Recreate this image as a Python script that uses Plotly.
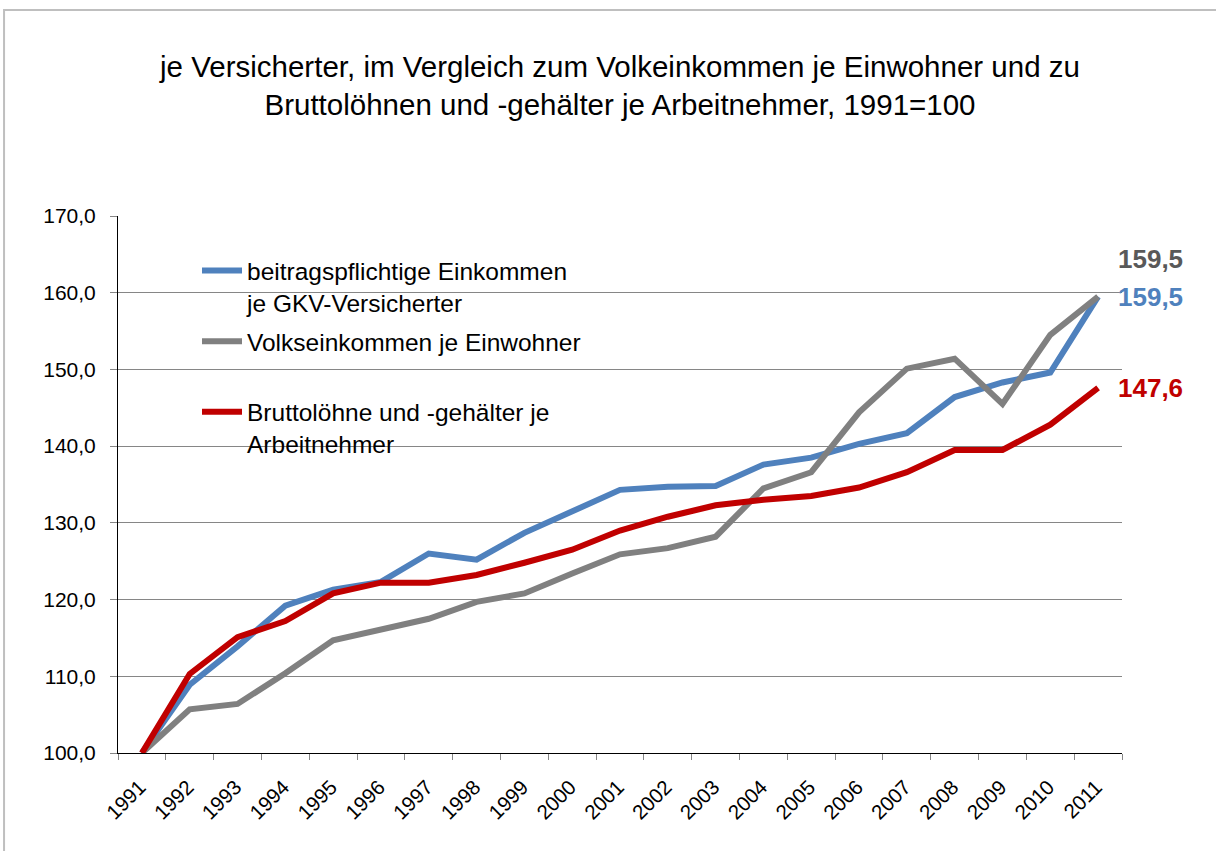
import plotly.graph_objects as go

years = [str(y) for y in range(1991, 2012)]

beitrag = [100, 108.9, 113.9, 119.2, 121.3, 122.3, 126.0, 125.2, 128.7, 131.5,
           134.3, 134.7, 134.8, 137.6, 138.5, 140.3, 141.7, 146.4, 148.3, 149.6, 159.5]
volk = [100, 105.7, 106.4, 110.4, 114.7, 116.1, 117.5, 119.7, 120.8, 123.4,
        125.9, 126.7, 128.2, 134.5, 136.6, 144.4, 150.1, 151.4, 145.5, 154.5, 159.5]
brutto = [100, 110.3, 115.1, 117.2, 120.8, 122.2, 122.2, 123.2, 124.8, 126.5,
          129.0, 130.8, 132.3, 133.0, 133.5, 134.6, 136.6, 139.5, 139.5, 142.8, 147.6]

names = ["beitragspflichtige Einkommen<br>je GKV-Versicherter",
         "Volkseinkommen je Einwohner<br> ",
         "Bruttolöhne und -gehälter je<br>Arbeitnehmer"]
colors = ["#4F81BD", "#808080", "#C00000"]
label_colors = ["#4F81BD", "#595959", "#C00000"]
label_shift = [0, 38, 0]

FONT = "Liberation Sans, Arial, sans-serif"

fig = go.Figure()
for i, vals in enumerate([beitrag, volk, brutto]):
    fig.add_trace(go.Scatter(
        x=years, y=vals, mode="lines", name=names[i],
        line=dict(color=colors[i], width=6),
        legendgroup=str(i)
    ))
    # end value label (category axis -> position by index)
    fig.add_annotation(
        x=len(years) - 1, y=vals[-1],
        text=f"<b>{vals[-1]:.1f}</b>".replace(".", ","),
        showarrow=False, xanchor="left", yanchor="middle",
        xshift=18, yshift=label_shift[i],
        font=dict(family=FONT, size=26, color=label_colors[i])
    )

# white box behind legend, above the gridlines
fig.add_shape(type="rect", xref="paper", yref="paper", layer="between",
              x0=(179 - 118) / 1004, x1=(591 - 118) / 1004,
              y0=(753 - 455) / 537, y1=(753 - 255) / 537,
              fillcolor="white", line=dict(width=0))

# chart area border
fig.add_shape(type="rect", xref="paper", yref="paper", layer="above",
              x0=-0.1135, x1=1.3, y0=-0.4, y1=1.3836,
              line=dict(color="#BFBFBF", width=2))

fig.update_layout(
    width=1216, height=851,
    margin=dict(l=118, r=94, t=216, b=98),
    paper_bgcolor="white", plot_bgcolor="white",
    separators=",.",
    font=dict(family=FONT, color="black"),
    title=dict(
        text="je Versicherter, im Vergleich zum Volkeinkommen je Einwohner und zu<br>"
             "Bruttolöhnen und -gehälter je Arbeitnehmer, 1991=100",
        x=0.5, xref="paper", xanchor="center",
        y=1 - 77 / 851, yref="container", yanchor="middle",
        font=dict(family=FONT, size=29.5, color="black")
    ),
    legend=dict(
        x=(197 - 118) / 1004, y=(753 - 248) / 537, xanchor="left", yanchor="top",
        bgcolor="rgba(0,0,0,0)", font=dict(family=FONT, size=24.5, color="black"),
        valign="top", tracegroupgap=4, itemwidth=40
    ),
    showlegend=True,
)

fig.update_yaxes(
    range=[100, 170], dtick=10, tickformat=".1f",
    showgrid=True, gridcolor="#868686", gridwidth=1,
    showline=True, linecolor="black", linewidth=1,
    ticks="outside", ticklen=7, tickcolor="#868686", ticklabelstandoff=10,
    tickfont=dict(family=FONT, size=21, color="black"),
    zeroline=False
)
fig.update_xaxes(
    type="category", range=[-0.5, 20.5],
    showgrid=False, showline=True, linecolor="black", linewidth=1,
    ticks="outside", ticklen=6, tickcolor="#868686", tickson="boundaries",
    ticklabelstandoff=13, ticklabelshift=-2,
    tickangle=-45, tickfont=dict(family=FONT, size=20.5, color="black")
)

# page body has an 8px default margin; remove it so the figure fills the window
fig.write_html("out.html", config={"displayModeBar": False},
               post_script="document.body.style.margin='0px';")
